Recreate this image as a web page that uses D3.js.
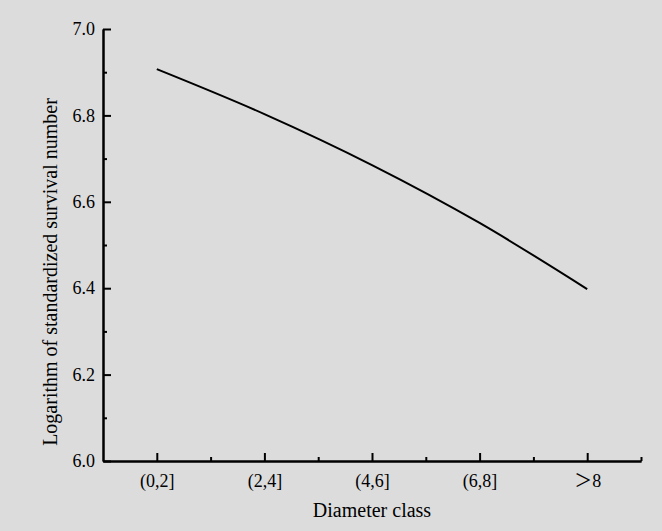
<!DOCTYPE html>
<html>
<head>
<meta charset="utf-8">
<script src="https://cdn.jsdelivr.net/npm/d3@7"></script>
<style>
  body { margin: 0; background: #dcdcdc; }
  svg { display: block; font-family: "Liberation Serif", "Times New Roman", serif; }
</style>
</head>
<body>
<svg id="chart"></svg>
<script>
/* Data */
const classes = ["(0,2]", "(2,4]", "(4,6]", "(6,8]", "＞8"];
const logSurvival = [6.907, 6.803, 6.685, 6.551, 6.398];
const yTicks = [6.0, 6.2, 6.4, 6.6, 6.8, 7.0];
const yMinorTicks = [6.1, 6.3, 6.5, 6.7, 6.9];

/* Dimensions */
const W = 662, H = 531;
const margin = { top: 29, right: 21, bottom: 70, left: 103 };
const width = W - margin.left - margin.right;
const height = H - margin.top - margin.bottom;

const svg = d3.select("#chart")
    .attr("width", W)
    .attr("height", H);

svg.append("rect")
    .attr("width", W)
    .attr("height", H)
    .attr("fill", "#dcdcdc");

const g = svg.append("g")
    .attr("transform", `translate(${margin.left},${margin.top})`);

/* Scales: categories sit at 1..5, axis spans 0.5..5.5 */
const x = d3.scaleLinear().domain([0.5, classes.length + 0.5]).range([0, width]);
const y = d3.scaleLinear().domain([6.0, 7.0]).range([height, 0]);

/* Minor ticks */
g.append("g")
    .attr("class", "minor")
    .attr("transform", `translate(0,${height})`)
    .call(d3.axisBottom(x)
        .tickValues(d3.range(1.5, classes.length + 1, 1))
        .tickSize(-4).tickSizeOuter(0).tickFormat(""));

g.append("g")
    .attr("class", "minor")
    .call(d3.axisLeft(y)
        .tickValues(yMinorTicks)
        .tickSize(-4).tickSizeOuter(0).tickFormat(""));

/* Major axes */
g.append("g")
    .attr("class", "axis")
    .attr("transform", `translate(0,${height})`)
    .call(d3.axisBottom(x)
        .tickValues(d3.range(1, classes.length + 1))
        .tickFormat(d => classes[d - 1])
        .tickSize(-8).tickSizeOuter(0).tickPadding(13));

g.append("g")
    .attr("class", "axis")
    .call(d3.axisLeft(y)
        .tickValues(yTicks)
        .tickFormat(d3.format(".1f"))
        .tickSize(-8).tickSizeOuter(0).tickPadding(8));

g.selectAll(".axis path, .axis line, .minor path, .minor line")
    .attr("stroke", "#000")
    .attr("stroke-width", 2);

g.selectAll(".axis text")
    .attr("fill", "#000")
    .style("font-size", "18px")
    .style("font-family", "'Liberation Serif', 'Noto Sans CJK SC', serif");

/* Line */
const line = d3.line()
    .x((d, i) => x(i + 1))
    .y(d => y(d))
    .curve(d3.curveMonotoneX);

g.append("path")
    .datum(logSurvival)
    .attr("fill", "none")
    .attr("stroke", "#000")
    .attr("stroke-width", 2)
    .attr("d", line);

/* Axis titles */
svg.append("text")
    .attr("x", margin.left + width / 2)
    .attr("y", 517)
    .attr("text-anchor", "middle")
    .style("font-size", "20px")
    .text("Diameter class");

svg.append("text")
    .attr("transform", "translate(57,272) rotate(-90)")
    .attr("text-anchor", "middle")
    .style("font-size", "20px")
    .text("Logarithm of standardized survival number");
</script>
</body>
</html>
